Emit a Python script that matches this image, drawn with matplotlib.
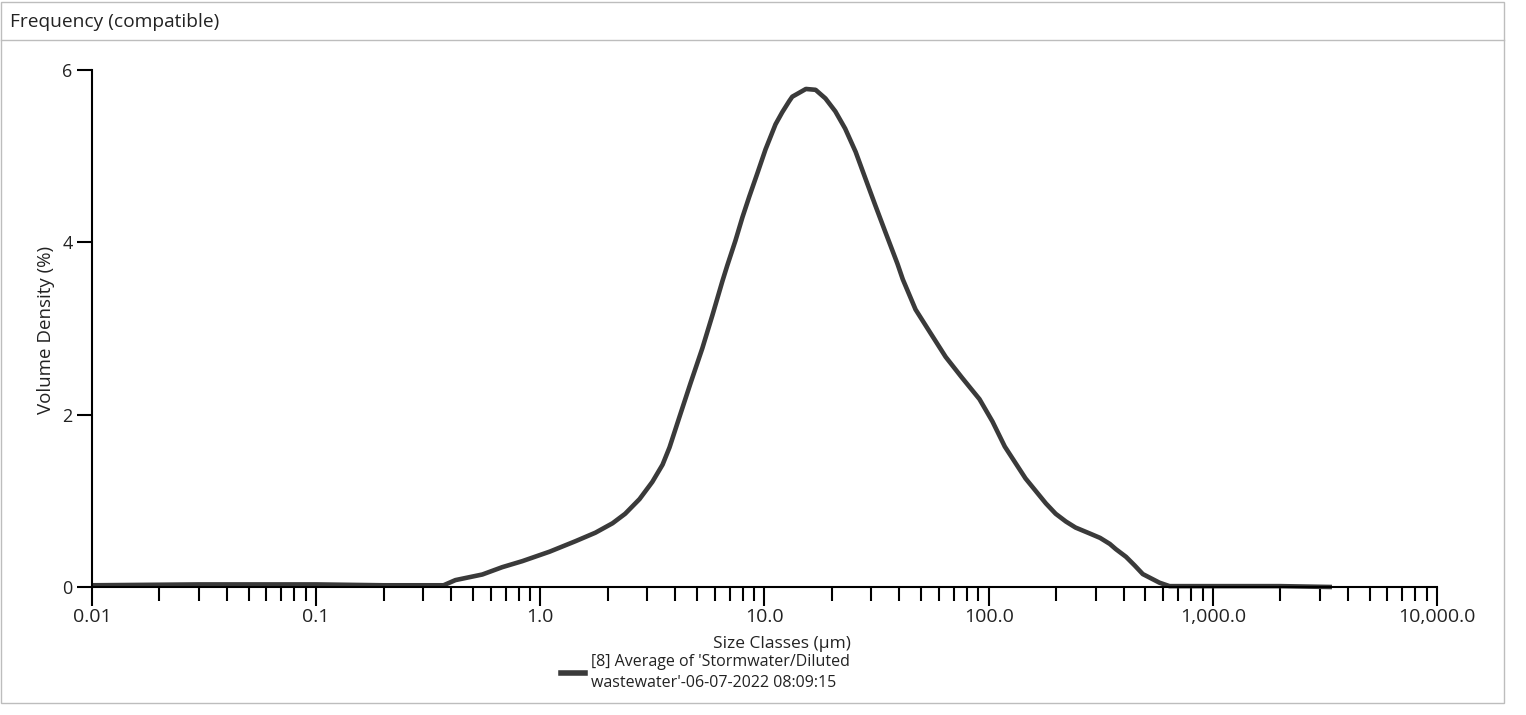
import numpy as np
import matplotlib
matplotlib.use("Agg")
import matplotlib.pyplot as plt
from matplotlib.ticker import FixedLocator, NullFormatter
from matplotlib.lines import Line2D

plt.rcParams['font.family'] = ['Open Sans', 'DejaVu Sans']

# size classes (um) and volume density (%)
sizes = [0.01, 0.03, 0.1, 0.2, 0.37, 0.418, 0.551, 0.676, 0.831, 1.10, 1.43,
         1.76, 2.10, 2.39, 2.77, 3.16, 3.51, 3.77, 4.17, 4.67, 5.28, 5.85,
         6.49, 6.82, 7.42, 7.97, 8.55, 9.29, 10.11, 11.2, 12.0, 12.9, 13.3,
         15.3, 16.9, 18.7, 20.7, 22.9, 25.5, 28.2, 31.2, 34.6, 39.2, 41.4,
         47.2, 54.6, 64.3, 76.0, 91.0, 104, 118, 146, 180, 199, 221, 244,
         283, 314, 347, 369, 410, 448, 487, 578, 641, 1000, 2000, 3400]
density = [0.02, 0.03, 0.03, 0.02, 0.02, 0.08, 0.145, 0.23, 0.30, 0.41, 0.53,
           0.63, 0.74, 0.85, 1.02, 1.22, 1.42, 1.62, 1.97, 2.36, 2.77, 3.15,
           3.55, 3.73, 4.02, 4.29, 4.53, 4.80, 5.08, 5.37, 5.51, 5.64, 5.69,
           5.78, 5.77, 5.67, 5.52, 5.32, 5.05, 4.74, 4.43, 4.12, 3.75, 3.57,
           3.22, 2.96, 2.67, 2.43, 2.18, 1.92, 1.63, 1.26, 0.97, 0.85, 0.76,
           0.69, 0.62, 0.57, 0.50, 0.44, 0.35, 0.25, 0.15, 0.05, 0.01, 0.01,
           0.01, 0.0]

x_major = [0.01, 0.1, 1, 10, 100, 1000, 10000]
x_labels = ['0.01', '0.1', '1.0', '10.0', '100.0', '1,000.0', '10,000.0']
y_ticks = [0, 2, 4, 6]

series_label = "[8] Average of 'Stormwater/Diluted\nwastewater'-06-07-2022 08:09:15"

W, H = 1526, 715
fig = plt.figure(figsize=(W / 100, H / 100), dpi=100)

ax = fig.add_axes([92 / W, 1 - 587 / H, (1437 - 92) / W, (587 - 70) / H])
ax.plot(sizes, density, color='#3a3a3a', lw=3.3, clip_on=False,
        solid_joinstyle='round', solid_capstyle='butt')

ax.set_xscale('log')
ax.set_xlim(0.01, 10000)
ax.set_ylim(0, 6)

ax.spines['top'].set_visible(False)
ax.spines['right'].set_visible(False)
ax.spines['left'].set_linewidth(1.5)
ax.spines['bottom'].set_linewidth(1.5)

ax.xaxis.set_major_locator(FixedLocator(x_major))
ax.set_xticklabels(x_labels)
minors = [m * d for d in x_major[:-1] for m in range(2, 10)]
ax.xaxis.set_minor_locator(FixedLocator(minors))
ax.xaxis.set_minor_formatter(NullFormatter())
ax.set_yticks(y_ticks)

ax.tick_params(axis='x', which='major', length=14, width=1.5, labelsize=14,
               pad=1, labelcolor='#222222')
ax.tick_params(axis='x', which='minor', length=10, width=1.5)
ax.tick_params(axis='y', length=11, width=1.5, labelsize=13, pad=3,
               labelcolor='#222222')

# frame and title bar
fig.patches.append(plt.Rectangle((1 / W, 12 / H), 1503 / W, 701 / H,
                                 transform=fig.transFigure, fill=False,
                                 edgecolor='#bdbdbd', lw=1))
fig.lines.append(Line2D([1 / W, 1504 / W], [1 - 40 / H, 1 - 40 / H],
                        transform=fig.transFigure, color='#bdbdbd', lw=1))
fig.text(10 / W, 1 - 22 / H, 'Frequency (compatible)', fontsize=13.8,
         va='center', ha='left', color='#222222')

fig.text(46 / W, 1 - 330 / H, 'Volume Density (%)', rotation=90,
         fontsize=13.5, va='center', ha='center', color='#222222')
fig.text(782 / W, 1 - 644 / H, 'Size Classes (\u03bcm)', fontsize=12.5,
         va='center', ha='center', color='#222222')

handle = Line2D([], [], color='#3a3a3a', lw=4)
leg = fig.legend([handle], [series_label], loc='upper left',
                 bbox_to_anchor=(561 / W, 1 - 654 / H), frameon=False,
                 fontsize=11.5, handlelength=1.5, handletextpad=0.35,
                 borderaxespad=0, borderpad=0)
for t in leg.get_texts():
    t.set_linespacing(1.45)
    t.set_color('#222222')

fig.savefig('out.png', dpi=100)
